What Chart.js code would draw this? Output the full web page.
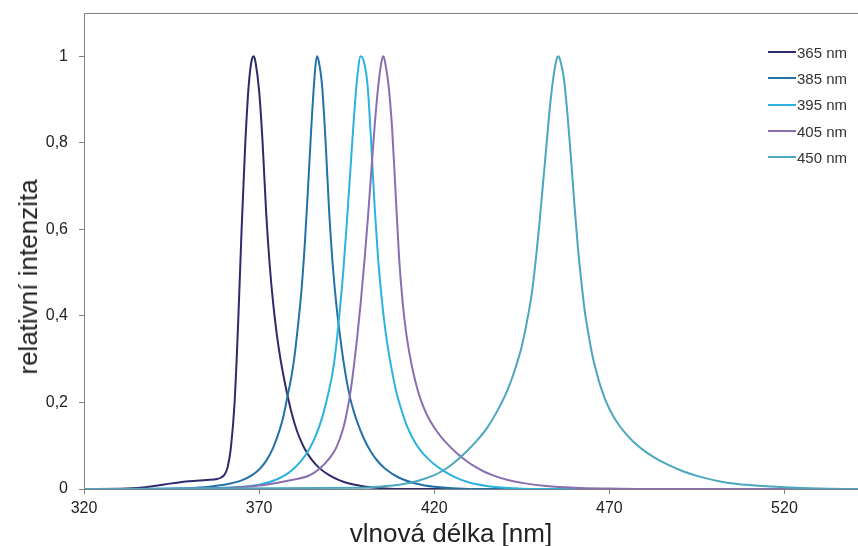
<!DOCTYPE html>
<html>
<head>
<meta charset="utf-8">
<script src="https://cdn.jsdelivr.net/npm/chart.js@4/dist/chart.umd.min.js"></script>
<style>
  html, body { margin: 0; padding: 0; background: #fff; overflow: hidden; }
  #wrap { position: relative; width: 858px; height: 546px; font-family: Arial, 'Liberation Sans', sans-serif; }
  #legend { position: absolute; left: 768px; top: 39px; font-size: 15px; color: #333; }
  .row { display: flex; align-items: center; height: 26.3px; }
  .swatch { width: 28px; height: 2px; margin-right: 1px; }
  .axis-title { position: absolute; font-size: 26px; color: #222; white-space: nowrap; line-height: 1; }
  #xTitle { left: 451px; top: 533px; transform: translate(-50%, -50%); }
  #yTitle { left: 28px; top: 277px; transform: translate(-50%, -50%) rotate(-90deg); }
</style>
</head>
<body>
<div id="wrap">
  <canvas id="c" width="858" height="546"></canvas>
  <div id="legend"></div>
  <div id="xTitle" class="axis-title">vlnová délka [nm]</div>
  <div id="yTitle" class="axis-title">relativní intenzita</div>
</div>
<script>
// 発光スペクトル (relativní intenzita vs. vlnová délka)
const seriesNames = ['365 nm', '385 nm', '395 nm', '405 nm', '450 nm'];
const seriesColors = ['#2d2b6c', '#2471a8', '#2cb2df', '#8a6fb0', '#4ba7bd'];

const wl365  = [320, 332, 336, 340, 345, 350, 355, 358, 359, 360, 361, 362, 363, 364, 365, 366, 367, 368, 368.5, 369, 370, 371, 372, 373, 374, 375, 376, 377, 378, 379, 380, 381, 382, 383, 385, 387, 390, 393, 396, 400, 405, 412, 541];
const int365 = [0, 0.001, 0.003, 0.007, 0.013, 0.018, 0.021, 0.023, 0.026, 0.032, 0.05, 0.1, 0.2, 0.38, 0.6, 0.79, 0.93, 0.995, 1.0, 0.985, 0.92, 0.8, 0.64, 0.52, 0.43, 0.36, 0.305, 0.26, 0.22, 0.185, 0.155, 0.13, 0.11, 0.093, 0.068, 0.05, 0.032, 0.02, 0.012, 0.006, 0.002, 0, 0];

const wl385  = [320, 350, 360, 365, 368, 370, 372, 374, 376, 377, 378, 379, 380, 381, 382, 383, 384, 385, 386, 386.5, 387, 388, 389, 390, 391, 392, 393, 394, 395, 396, 397, 398, 400, 402, 404, 406, 410, 415, 420, 430, 541];
const int385 = [0, 0.002, 0.01, 0.02, 0.032, 0.045, 0.065, 0.095, 0.14, 0.17, 0.21, 0.25, 0.3, 0.37, 0.45, 0.56, 0.7, 0.85, 0.97, 1.0, 0.99, 0.93, 0.8, 0.64, 0.52, 0.43, 0.36, 0.3, 0.25, 0.21, 0.18, 0.155, 0.115, 0.085, 0.063, 0.047, 0.026, 0.012, 0.005, 0, 0];

const wl395  = [320, 360, 370, 375, 378, 380, 382, 384, 386, 388, 390, 391, 392, 393, 394, 395, 396, 397, 398, 399, 400, 401, 402, 403, 404, 405, 406, 407, 408, 409, 410, 412, 414, 416, 418, 420, 423, 426, 430, 435, 440, 450, 541];
const int395 = [0, 0.003, 0.01, 0.022, 0.035, 0.048, 0.065, 0.088, 0.12, 0.165, 0.23, 0.27, 0.33, 0.41, 0.5, 0.61, 0.73, 0.85, 0.95, 1.0, 0.985, 0.93, 0.8, 0.65, 0.53, 0.44, 0.37, 0.315, 0.27, 0.23, 0.2, 0.15, 0.115, 0.09, 0.072, 0.057, 0.04, 0.027, 0.015, 0.007, 0.003, 0, 0];

const wl405  = [320, 360, 370, 375, 380, 384, 387, 390, 392, 394, 395, 396, 397, 398, 399, 400, 401, 402, 403, 404, 405, 405.5, 406, 407, 408, 409, 410, 411, 412, 413, 414, 415, 416, 417, 418, 420, 422, 424, 426, 428, 430, 432, 434, 437, 441, 446, 452, 460, 470, 480, 541];
const int405 = [0, 0.002, 0.008, 0.014, 0.022, 0.03, 0.045, 0.07, 0.095, 0.14, 0.175, 0.22, 0.28, 0.35, 0.43, 0.52, 0.62, 0.73, 0.84, 0.93, 0.99, 1.0, 0.985, 0.93, 0.83, 0.68, 0.53, 0.43, 0.36, 0.31, 0.27, 0.237, 0.21, 0.188, 0.17, 0.142, 0.12, 0.102, 0.086, 0.072, 0.06, 0.05, 0.041, 0.031, 0.021, 0.013, 0.007, 0.003, 0.001, 0, 0];

const wl450  = [320, 400, 405, 410, 415, 420, 423, 426, 429, 432, 435, 438, 441, 443, 445, 447, 448, 449, 450, 451, 452, 453, 454, 455, 455.5, 456, 457, 458, 459, 460, 461, 462, 463, 464, 465, 466, 467, 468, 469, 471, 473, 475, 477, 480, 483, 487, 491, 496, 502, 510, 520, 530, 541];
const int450 = [0, 0.003, 0.006, 0.01, 0.018, 0.032, 0.045, 0.063, 0.085, 0.11, 0.14, 0.18, 0.23, 0.275, 0.33, 0.41, 0.46, 0.53, 0.61, 0.7, 0.79, 0.88, 0.95, 0.995, 1.0, 0.99, 0.95, 0.87, 0.77, 0.66, 0.56, 0.48, 0.41, 0.36, 0.315, 0.28, 0.25, 0.225, 0.203, 0.17, 0.145, 0.125, 0.108, 0.088, 0.072, 0.055, 0.041, 0.028, 0.017, 0.009, 0.004, 0.001, 0];

const xTicks = [320, 370, 420, 470, 520];
const yTicks = [0, 0.2, 0.4, 0.6, 0.8, 1];

const wlList = [wl365, wl385, wl395, wl405, wl450];
const intList = [int365, int385, int395, int405, int450];

const axisColor = '#808080';
const fontFamily = "Arial, 'Liberation Sans', sans-serif";

const datasets = seriesNames.map((name, i) => ({
    label: name,
    data: wlList[i].map((x, j) => ({ x: x, y: intList[i][j] })),
    borderColor: seriesColors[i],
    backgroundColor: seriesColors[i],
    borderWidth: 2,
    pointRadius: 0,
    showLine: true,
    cubicInterpolationMode: 'monotone',
    order: seriesNames.length - 1 - i,
}));

// 上枠線
const topBorder = {
    id: 'topBorder',
    afterDraw(chart) {
        const { ctx, chartArea } = chart;
        ctx.save();
        ctx.strokeStyle = axisColor;
        ctx.lineWidth = 1;
        ctx.beginPath();
        ctx.moveTo(chartArea.left, chartArea.top + 0.5);
        ctx.lineTo(chartArea.right, chartArea.top + 0.5);
        ctx.stroke();
        ctx.restore();
    },
};

new Chart(document.getElementById('c'), {
    type: 'scatter',
    data: { datasets: datasets },
    options: {
        responsive: false,
        animation: false,
        layout: { padding: { top: 13, left: 0, right: 0, bottom: 0 } },
        plugins: {
            legend: { display: false },
            tooltip: { enabled: false },
        },
        scales: {
            x: {
                type: 'linear',
                min: 320,
                max: 541,
                afterBuildTicks: (scale) => {
                    scale.ticks = xTicks.map((v) => ({ value: v }));
                },
                afterFit: (scale) => { scale.height = 57; },
                ticks: {
                    color: '#222',
                    font: { family: fontFamily, size: 16 },
                    padding: 5,
                    maxRotation: 0,
                },
                grid: { drawOnChartArea: false, tickLength: 5, color: axisColor },
                border: { color: axisColor },
            },
            y: {
                min: 0,
                max: 1.1,
                afterBuildTicks: (scale) => {
                    scale.ticks = yTicks.map((v) => ({ value: v }));
                },
                afterFit: (scale) => {
                    scale.width = 84;
                    scale.paddingTop = 0;
                    scale.paddingBottom = 0;
                },
                ticks: {
                    color: '#222',
                    font: { family: fontFamily, size: 16 },
                    padding: 11,
                    callback: (v) => String(Math.round(v * 10) / 10).replace('.', ','),
                },
                grid: { drawOnChartArea: false, tickLength: 5, color: axisColor },
                border: { color: axisColor },
            },
        },
    },
    plugins: [topBorder],
});

// 凡例 (HTML)
const legendEl = document.getElementById('legend');
seriesNames.forEach((name, i) => {
    const row = document.createElement('div');
    row.className = 'row';
    row.innerHTML = `<span class="swatch" style="background:${seriesColors[i]}"></span><span>${name}</span>`;
    legendEl.appendChild(row);
});
</script>
</body>
</html>
